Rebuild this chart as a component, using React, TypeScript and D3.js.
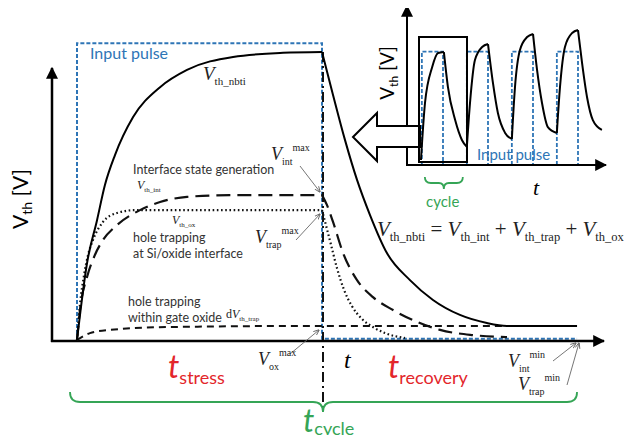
import React from "react";
import * as d3 from "d3";

// main plot: time in % of the stress phase, Vth in % of its peak
const nbtiStress = [[0, 0], [4.1, 26.7], [8.2, 41.7], [11.4, 53.8], [15.5, 64.2], [22.9, 77.4], [33.9, 87.8], [44.9, 93.8], [63.7, 98.3], [84.1, 99.7], [100, 100]];
const nbtiRecovery = [[100, 100], [104.5, 85.1], [109.4, 69.4], [114.3, 55.6], [119.6, 43.4], [126.5, 30.2], [135.9, 20.8], [145.3, 13.9], [156.3, 8.7], [167.3, 5.9], [175.5, 4.9], [204.1, 4.9]];
const intStress = [[0, 0], [1.2, 10.4], [4.1, 21.9], [7.3, 29.5], [10.6, 34.7], [16.3, 39.9], [25.7, 45.1], [33.9, 47.9], [44.9, 49.7], [62.4, 50.3], [100, 50.3]];
const intRecovery = [[100, 50.3], [102.0, 46.9], [104.5, 41.0], [108.6, 30.2], [114.3, 20.8], [120.8, 14.9], [129.0, 10.4], [138.8, 6.3], [148.2, 3.5], [161.6, 1.7], [175.5, 1.0]];
const trapStress = [[0, 0], [1.2, 12.2], [2.9, 22.6], [4.5, 29.5], [6.5, 34.7], [10.6, 41.0], [16.3, 44.1], [23.7, 45.1], [100, 45.1]];
const trapRecovery = [[100, 45.1], [101.6, 39.9], [103.7, 33.0], [106.1, 25.0], [109.0, 17.4], [112.2, 11.8], [116.3, 7.3], [120.8, 4.5], [125.7, 2.4], [133.9, 0.7]];
const oxCurve = [[0, 0], [5.3, 2.4], [13.5, 3.5], [36.7, 4.5], [100, 4.9], [204.1, 4.9]];
const inputPulse = [[0, 0], [0, 103], [100, 103], [100, 0.4], [204.1, 0.4]];

// inset: time in cycles, Vth in a.u.
const insetPulseStarts = [0.33, 1.33, 2.33, 3.33];
const insetPulseWidth = 0.47;
const insetPulseLevel = 0.81;
const insetVth = [
  [0.31, 0.036], [0.4, 0.443], [0.56, 0.7], [0.69, 0.8], [0.82, 0.807],
  [0.91, 0.557], [1.07, 0.321], [1.22, 0.179], [1.33, 0.129],
  [1.4, 0.443], [1.51, 0.75], [1.67, 0.843], [1.8, 0.864],
  [1.91, 0.586], [2.02, 0.371], [2.18, 0.229], [2.33, 0.186],
  [2.4, 0.557], [2.51, 0.821], [2.67, 0.914], [2.8, 0.936],
  [2.89, 0.679], [3.0, 0.443], [3.13, 0.271], [3.33, 0.229],
  [3.4, 0.557], [3.51, 0.843], [3.67, 0.943], [3.8, 0.964],
  [3.89, 0.729], [4.0, 0.486], [4.13, 0.321], [4.33, 0.25],
];

const SANS = "Lato, 'Open Sans', sans-serif";
const SERIF = "'Liberation Serif', 'DejaVu Serif', serif";
const BLUE = "#2e75b6";
const GREEN = "#35a556";
const RED = "#e3262b";
const GREY = "#666";

// split a series where it turns, so every piece stays monotone and peaks stay sharp
function splitAtTurns(pts: number[][]) {
  const segs: number[][][] = [];
  let cur = [pts[0]];
  let dir = 0;
  for (let i = 1; i < pts.length; i++) {
    const d = Math.sign(pts[i][1] - pts[i - 1][1]);
    if (dir !== 0 && d !== 0 && d !== dir) {
      segs.push(cur);
      cur = [pts[i - 1]];
    }
    if (d !== 0) dir = d;
    cur.push(pts[i]);
  }
  segs.push(cur);
  return segs;
}

const VLabel = ({ x, y, sub, sup, size = 18, subSize = 10, pre }: any) => (
  <text x={x} y={y} fontFamily={SERIF} fontSize={size} fill="#222">
    {pre && <tspan>{pre}</tspan>}
    <tspan fontStyle="italic">V</tspan>
    <tspan fontSize={subSize} dy={size * 0.25}>{sub}</tspan>
    {sup && <tspan fontSize={subSize} dy={-size * 0.75}>{sup}</tspan>}
  </text>
);

export default function App() {
  const x = d3.scaleLinear().domain([0, 100]).range([77, 322]);
  const y = d3.scaleLinear().domain([0, 100]).range([340, 52]);
  const xi = d3.scaleLinear().domain([0, 1]).range([407, 452]);
  const yi = d3.scaleLinear().domain([0, 1]).range([165, 25]);

  const smooth = d3.line<number[]>().x((d) => x(d[0])).y((d) => y(d[1])).curve(d3.curveMonotoneX);
  const straight = d3.line<number[]>().x((d) => x(d[0])).y((d) => y(d[1]));
  const insetSmooth = d3.line<number[]>().x((d) => xi(d[0])).y((d) => yi(d[1])).curve(d3.curveMonotoneX);
  const insetStraight = d3.line<number[]>().x((d) => xi(d[0])).y((d) => yi(d[1]));

  const axisY0 = y(0) + 1;
  const xEnd = x(204.1);
  const xPeak = x(100) + 1;

  const insetPulses = insetPulseStarts.map((s) => [
    [s, 0], [s, insetPulseLevel], [s + insetPulseWidth, insetPulseLevel], [s + insetPulseWidth, 0],
  ]);

  // braces
  const bL = x(0) - 7, bR = xEnd, bY = 402;
  const mainBrace = `M${bL},${bY - 10} Q${bL},${bY} ${bL + 10},${bY} L${xPeak - 10},${bY} Q${xPeak},${bY} ${xPeak},${bY + 10} Q${xPeak},${bY} ${xPeak + 10},${bY} L${bR - 10},${bY} Q${bR},${bY} ${bR},${bY - 10}`;
  const iL = xi(insetPulseStarts[0]) + 3, iR = xi(insetPulseStarts[1]) - 4, iC = (iL + iR) / 2, iY = 183;
  const insetBrace = `M${iL},${iY - 6} Q${iL},${iY} ${iL + 6},${iY} L${iC - 5},${iY} Q${iC},${iY} ${iC},${iY + 6} Q${iC},${iY} ${iC + 5},${iY} L${iR - 6},${iY} Q${iR},${iY} ${iR},${iY - 6}`;

  const leaders = [
    [300, 166, 320, 192],
    [296, 240, 320, 214],
    [290, 354, 319, 330],
    [553, 361, 576, 343],
    [567, 385, 579, 343],
  ];

  return (
    <svg width={641} height={443} viewBox="0 0 641 443" style={{ display: "block", background: "#fff", margin: -8 }}>
      <defs>
        <marker id="ah" viewBox="0 0 10 10" refX={9} refY={5} markerWidth={12} markerHeight={12} markerUnits="userSpaceOnUse" orient="auto">
          <path d="M0,0 L10,5 L0,10 z" fill="#000" />
        </marker>
        <marker id="small" viewBox="0 0 10 10" refX={9} refY={5} markerWidth={6} markerHeight={6} markerUnits="userSpaceOnUse" orient="auto">
          <path d="M0,1 L10,5 L0,9" fill="none" stroke={GREY} strokeWidth={1.5} />
        </marker>
      </defs>

      {/* main input pulse */}
      <path d={straight(inputPulse) || ""} fill="none" stroke={BLUE} strokeWidth={2} strokeDasharray="4 2" />

      {/* dash-dot end of stress */}
      <line x1={xPeak} x2={xPeak} y1={y(100)} y2={412} stroke="#111" strokeWidth={2} strokeDasharray="10 4 2 4" />

      {/* main axes */}
      <line x1={52} x2={52} y1={axisY0 + 1} y2={68} stroke="#000" strokeWidth={2.5} markerEnd="url(#ah)" />
      <line x1={51} x2={604} y1={axisY0} y2={axisY0} stroke="#000" strokeWidth={2.5} markerEnd="url(#ah)" />

      {/* components */}
      <path d={smooth(oxCurve) || ""} fill="none" stroke="#111" strokeWidth={2} strokeDasharray="7 5" />
      {[trapStress, trapRecovery].map((s, i) => (
        <path key={"tr" + i} d={smooth(s) || ""} fill="none" stroke="#111" strokeWidth={2.2} strokeDasharray="1.6 2.6" />
      ))}
      {[intStress, intRecovery].map((s, i) => (
        <path key={"in" + i} d={smooth(s) || ""} fill="none" stroke="#111" strokeWidth={2.2} strokeDasharray="14 7" />
      ))}
      {[nbtiStress, nbtiRecovery].map((s, i) => (
        <path key={"nb" + i} d={smooth(s) || ""} fill="none" stroke="#000" strokeWidth={2} />
      ))}

      {/* leader lines */}
      {leaders.map((l, i) => (
        <line key={i} x1={l[0]} y1={l[1]} x2={l[2]} y2={l[3]} stroke={GREY} strokeWidth={0.9} markerEnd="url(#small)" />
      ))}

      {/* inset */}
      {insetPulses.map((p, i) => (
        <path key={i} d={insetStraight(p) || ""} fill="none" stroke={BLUE} strokeWidth={1.8} strokeDasharray="4 2" />
      ))}
      <line x1={xi(0)} x2={xi(0)} y1={yi(0) + 1} y2={6} stroke="#000" strokeWidth={2} markerEnd="url(#ah)" />
      <line x1={xi(0) - 1} x2={606} y1={yi(0)} y2={yi(0)} stroke="#000" strokeWidth={2} markerEnd="url(#ah)" />
      {splitAtTurns(insetVth).map((s, i) => (
        <path key={i} d={insetSmooth(s) || ""} fill="none" stroke="#000" strokeWidth={2} />
      ))}
      <polygon points="353,137 377,113 377,126 420,126 420,147 377,147 377,161" fill="#fff" stroke="#000" strokeWidth={2} strokeLinejoin="miter" />
      <rect x={419} y={37} width={48} height={125} fill="none" stroke="#000" strokeWidth={2} />

      {/* braces */}
      <path d={mainBrace} fill="none" stroke={GREEN} strokeWidth={1.8} />
      <path d={insetBrace} fill="none" stroke={GREEN} strokeWidth={1.8} />

      {/* texts */}
      <text x={90} y={59} fontFamily={SANS} fontSize={16} fill={BLUE}>Input pulse</text>
      <text x={477} y={160} fontFamily={SANS} fontSize={15} fill={BLUE}>Input pulse</text>

      <g transform="translate(28,199) rotate(-90)">
        <text textAnchor="middle" fontFamily={SANS} fontSize={21} fill="#000">
          V<tspan fontSize={14} dy={4}>th</tspan><tspan dy={-4}> [V]</tspan>
        </text>
      </g>
      <g transform="translate(394,73) rotate(-90)">
        <text textAnchor="middle" fontFamily={SANS} fontSize={19} fill="#000">
          V<tspan fontSize={12} dy={4}>th</tspan><tspan dy={-4}> [V]</tspan>
        </text>
      </g>
      <text x={533} y={195} fontFamily={SERIF} fontStyle="italic" fontSize={22}>t</text>
      <text x={426} y={207} fontFamily={SANS} fontSize={15} fill={GREEN}>cycle</text>

      <VLabel x={203} y={80} sub="th_nbti" size={19} subSize={11} />
      <VLabel x={271} y={160} sub="int" sup="max" size={18} subSize={10} />
      <VLabel x={255} y={243} sub="trap" sup="max" size={18} subSize={10} />
      <VLabel x={258} y={365} sub="ox" sup="max" size={18} subSize={10} />
      <VLabel x={508} y={367} sub="int" sup="min" size={18} subSize={10} />
      <VLabel x={518} y={390} sub="trap" sup="min" size={18} subSize={10} />
      <VLabel x={137} y={189} sub="th_int" size={12} subSize={7} />
      <VLabel x={172} y={224} sub="th_ox" size={12} subSize={7} />
      <VLabel x={226} y={318} sub="th_trap" size={12} subSize={7} pre="d" />

      <g fontFamily={SANS} fontSize={12.5} fill="#333">
        <text x={133} y={174}>Interface state generation</text>
        <text x={133} y={242}>hole trapping</text>
        <text x={133} y={258}>at Si/oxide interface</text>
        <text x={128} y={306}>hole trapping</text>
        <text x={128} y={322}>within gate oxide</text>
      </g>

      <text x={377} y={236} fontFamily={SERIF} fontSize={21} fill="#222">
        <tspan fontStyle="italic">V</tspan><tspan fontSize={12.5} dy={5}>th_nbti</tspan>
        <tspan dy={-5}> = </tspan><tspan fontStyle="italic">V</tspan><tspan fontSize={12.5} dy={5}>th_int</tspan>
        <tspan dy={-5}> + </tspan><tspan fontStyle="italic">V</tspan><tspan fontSize={12.5} dy={5}>th_trap</tspan>
        <tspan dy={-5}> + </tspan><tspan fontStyle="italic">V</tspan><tspan fontSize={12.5} dy={5}>th_ox</tspan>
      </text>

      <text x={344} y={368} fontFamily={SERIF} fontStyle="italic" fontSize={24}>t</text>

      <text x={168} y={378} fontFamily={SANS} fill={RED}>
        <tspan fontStyle="italic" fontSize={32}>t</tspan><tspan fontSize={18} dy={6}>stress</tspan>
      </text>
      <text x={388} y={378} fontFamily={SANS} fill={RED}>
        <tspan fontStyle="italic" fontSize={32}>t</tspan><tspan fontSize={18} dy={6}>recovery</tspan>
      </text>
      <text x={303} y={432} fontFamily={SANS} fill={GREEN}>
        <tspan fontStyle="italic" fontSize={32}>t</tspan><tspan fontSize={18} dy={3}>cycle</tspan>
      </text>
    </svg>
  );
}
